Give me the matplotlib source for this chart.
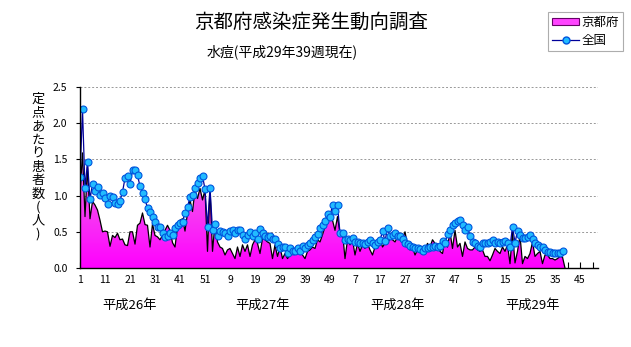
import numpy as np
import matplotlib
matplotlib.use('Agg')
import matplotlib.pyplot as plt
from matplotlib.colors import LinearSegmentedColormap
from matplotlib.lines import Line2D
from matplotlib.patches import Patch
import matplotlib.transforms as mtransforms

plt.rcParams['font.family'] = ['Noto Sans CJK JP', 'DejaVu Sans']

title = '京都府感染症発生動向調査'
subtitle = '水痘(平成29年39週現在)'
ylabel = '定点あたり患者数(人)'
series_names = ['京都府', '全国']
year_labels = ['平成26年', '平成27年', '平成28年', '平成29年']

# 京都府 weekly values, H26 wk1 .. H29 wk39
kyoto_h26 = [1.01, 1.59, 0.71, 1.40, 0.68, 0.92, 0.87, 0.80, 0.66, 0.50,
             0.51, 0.50, 0.30, 0.45, 0.42, 0.48, 0.39, 0.40, 0.32, 0.31,
             0.50, 0.50, 0.33, 0.59, 0.62, 0.76, 0.60, 0.59, 0.29, 0.61,
             0.45, 0.43, 0.39, 0.45, 0.52, 0.59, 0.52, 0.35, 0.29, 0.57,
             0.66, 0.68, 0.51, 0.76, 0.94, 0.78, 1.08, 0.96, 1.10, 0.94,
             1.08, 0.23]
kyoto_h27 = [1.10, 0.23, 0.62, 0.36, 0.29, 0.27, 0.18, 0.25, 0.27, 0.20,
             0.13, 0.29, 0.16, 0.32, 0.23, 0.32, 0.16, 0.32, 0.39, 0.34,
             0.20, 0.41, 0.39, 0.36, 0.34, 0.13, 0.32, 0.16, 0.29, 0.13,
             0.20, 0.13, 0.18, 0.20, 0.23, 0.20, 0.23, 0.18, 0.13, 0.23,
             0.25, 0.29, 0.27, 0.39, 0.36, 0.46, 0.57, 0.66, 0.76, 0.66,
             0.52, 0.71]
kyoto_h28 = [0.48, 0.50, 0.13, 0.39, 0.32, 0.39, 0.18, 0.34, 0.23, 0.32,
             0.27, 0.34, 0.25, 0.18, 0.29, 0.27, 0.41, 0.29, 0.34, 0.34,
             0.41, 0.39, 0.36, 0.43, 0.39, 0.41, 0.50, 0.32, 0.25, 0.29,
             0.18, 0.25, 0.27, 0.29, 0.25, 0.34, 0.29, 0.39, 0.34, 0.32,
             0.23, 0.20, 0.39, 0.29, 0.50, 0.27, 0.52, 0.29, 0.34, 0.16,
             0.36, 0.27]
kyoto_h29 = [0.25, 0.25, 0.29, 0.25, 0.23, 0.25, 0.16, 0.16, 0.10, 0.18,
             0.27, 0.23, 0.20, 0.29, 0.23, 0.32, 0.06, 0.50, 0.07, 0.23,
             0.45, 0.06, 0.16, 0.13, 0.20, 0.36, 0.16, 0.20, 0.23, 0.06,
             0.18, 0.18, 0.13, 0.13, 0.11, 0.13, 0.16, 0.15, 0.0]

# 全国 weekly values
zenkoku_h26 = [1.26, 2.19, 1.10, 1.46, 0.95, 1.16, 1.06, 1.12, 1.01, 1.03,
               0.96, 0.88, 1.00, 0.98, 0.90, 0.88, 0.93, 1.05, 1.24, 1.27,
               1.16, 1.35, 1.35, 1.28, 1.13, 1.03, 0.95, 0.83, 0.77, 0.70,
               0.64, 0.57, 0.56, 0.48, 0.43, 0.44, 0.49, 0.46, 0.55, 0.59,
               0.62, 0.64, 0.76, 0.84, 0.98, 1.01, 1.10, 1.17, 1.24, 1.27,
               1.09, 0.57]
zenkoku_h27 = [1.11, 0.52, 0.61, 0.44, 0.51, 0.50, 0.49, 0.44, 0.51, 0.52,
               0.48, 0.52, 0.52, 0.46, 0.40, 0.46, 0.50, 0.44, 0.49, 0.40,
               0.54, 0.48, 0.44, 0.43, 0.44, 0.40, 0.40, 0.33, 0.28, 0.29,
               0.29, 0.21, 0.27, 0.24, 0.24, 0.28, 0.24, 0.30, 0.27, 0.32,
               0.34, 0.39, 0.43, 0.47, 0.55, 0.60, 0.65, 0.75, 0.71, 0.87,
               0.79, 0.87]
zenkoku_h28 = [0.48, 0.49, 0.39, 0.40, 0.39, 0.41, 0.36, 0.36, 0.35, 0.35,
               0.33, 0.36, 0.38, 0.35, 0.32, 0.36, 0.38, 0.51, 0.37, 0.55,
               0.44, 0.45, 0.48, 0.44, 0.44, 0.40, 0.35, 0.33, 0.31, 0.29,
               0.28, 0.28, 0.26, 0.24, 0.28, 0.28, 0.29, 0.29, 0.31, 0.29,
               0.30, 0.37, 0.35, 0.47, 0.53, 0.59, 0.62, 0.65, 0.66, 0.59,
               0.52, 0.57]
zenkoku_h29 = [0.44, 0.36, 0.34, 0.30, 0.29, 0.34, 0.34, 0.35, 0.36, 0.38,
               0.35, 0.36, 0.35, 0.36, 0.37, 0.35, 0.29, 0.57, 0.35, 0.51,
               0.46, 0.42, 0.42, 0.43, 0.46, 0.40, 0.35, 0.32, 0.29, 0.29,
               0.25, 0.22, 0.22, 0.21, 0.21, 0.21, 0.21, 0.24]

tick_weeks = [1, 11, 21, 31, 41, 51, 61, 71, 81, 91, 101, 111, 121, 131,
              141, 151, 161, 171, 181, 191, 201]
tick_labels = ['1', '11', '21', '31', '41', '51', '9', '19', '29', '39', '49',
               '7', '17', '27', '37', '47', '5', '15', '25', '35', '45']
year_centers = [21, 74, 128, 182]

kyoto = kyoto_h26 + kyoto_h27 + kyoto_h28 + kyoto_h29
zenkoku = zenkoku_h26 + zenkoku_h27 + zenkoku_h28 + zenkoku_h29
wk_k = np.arange(1, len(kyoto) + 1)
wk_z = np.arange(1, len(zenkoku) + 1)

fig = plt.figure(figsize=(6.31, 3.47), dpi=100)
ax = fig.add_axes([80 / 631, 79 / 347, 518 / 631, 181 / 347])

# gradient area for 京都府
poly = ax.fill_between(wk_k, kyoto, 0, facecolor='none', edgecolor='none')
cmap = LinearSegmentedColormap.from_list('pk', ['#FF00FF', '#EE77E6'])
grad = np.linspace(0, 1, 256).reshape(-1, 1)
im = ax.imshow(grad, extent=[1, len(kyoto), 0, max(kyoto)], origin='lower',
               aspect='auto', cmap=cmap, zorder=2, interpolation='bilinear')
im.set_clip_path(poly.get_paths()[0], ax.transData)
ax.plot(wk_k, kyoto, color='black', lw=0.9, zorder=3)

ax.plot(wk_z, zenkoku, color='#000099', lw=0.9, marker='o', markersize=5,
        markerfacecolor='#22BBFF', markeredgecolor='#0055DD',
        markeredgewidth=0.8, zorder=4)

ax.set_xlim(1, 208.2)
ax.set_ylim(0, 2.5)
ax.set_yticks(np.arange(0, 2.51, 0.5))
ax.set_yticklabels(['%.1f' % v for v in np.arange(0, 2.51, 0.5)], fontsize=7.5)
ax.set_xticks(tick_weeks)
ax.set_xticklabels(tick_labels, fontsize=7.5)
ax.set_xticks(np.arange(1, 208, 5), minor=True)
ax.tick_params(axis='x', which='both', direction='in', length=4, width=0.8, pad=5)
ax.tick_params(axis='y', direction='out', length=3, width=0.8, pad=6)
ax.yaxis.grid(True, color='#999999', linestyle=(0, (2, 2)), lw=0.7, zorder=0)
ax.set_axisbelow(True)
for s in ['top', 'right']:
    ax.spines[s].set_visible(False)
for s in ['left', 'bottom']:
    ax.spines[s].set_linewidth(1.0)
    ax.spines[s].set_zorder(5)

fig.text(311 / 631, 1 - 22 / 347, title, ha='center', va='center', fontsize=14)
fig.text(282 / 631, 1 - 52 / 347, subtitle, ha='center', va='center', fontsize=10)
fig.text(38 / 631, 1 - 167 / 347, '\n'.join(ylabel), ha='center', va='center',
         fontsize=9.5, linespacing=1.05)

trans = mtransforms.blended_transform_factory(ax.transData, fig.transFigure)
for yl, xc in zip(year_labels, year_centers):
    ax.text(xc, 1 - 305 / 347, yl, transform=trans, ha='center', va='center',
            fontsize=9.5)

handles = [Patch(facecolor='#FF44FF', edgecolor='#660066', lw=0.8),
           Line2D([], [], color='#000099', lw=0.9, marker='o', markersize=5,
                  markerfacecolor='#22BBFF', markeredgecolor='#0055DD')]
leg = fig.legend(handles, series_names, loc='upper right',
                 bbox_to_anchor=(623 / 631, 1 - 12 / 347), fontsize=9,
                 frameon=True, fancybox=False, edgecolor='#999999',
                 handlelength=2.2, handleheight=0.5, handletextpad=0.2,
                 borderpad=0.3, labelspacing=0.4, borderaxespad=0)
leg.get_frame().set_linewidth(0.8)

fig.savefig('out.png', dpi=100)
